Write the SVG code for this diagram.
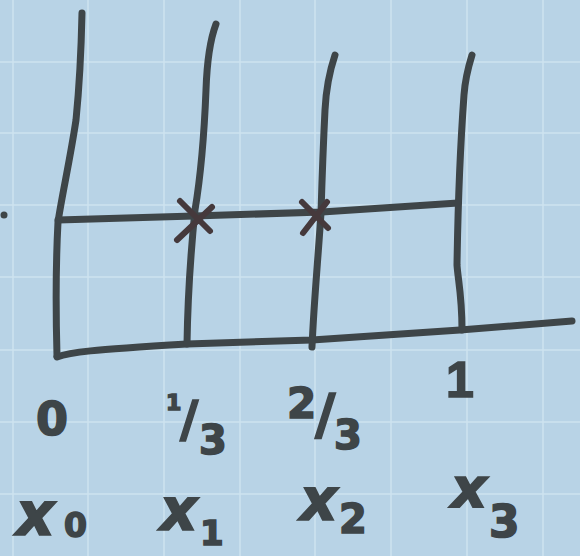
<svg xmlns="http://www.w3.org/2000/svg" width="580" height="556" viewBox="0 0 580 556">
<style>
.grid{stroke:#cde3f0;stroke-width:1.5;fill:none}
.ink{stroke:#3e4548;stroke-width:7;fill:none;stroke-linecap:round;stroke-linejoin:round}
.mark{stroke:#45393c;stroke-width:6;fill:none;stroke-linecap:round}
.lbl{font-family:"DejaVu Sans",sans-serif;fill:#3e4548;stroke:#3e4548;stroke-width:1.6;font-weight:bold}
.xv{font-style:italic}
</style>
<rect width="580" height="556" fill="#b8d3e6"/>
<g id="grid">
<path class="grid" d="M13,0V556M88,0V556M164,0V556M240,0V556M315,0V556M391,0V556M467,0V556M543,0V556"/>
<path class="grid" d="M0,62H580M0,133H580M0,205H580M0,277H580M0,350H580M0,422H580M0,494H580"/>
</g>
<g id="connectors">
<path id="axis" class="ink" d="M57,357 C70,352 90,350 187,344 L312,340 L460,330 L572,321"/>
<path id="row" class="ink" d="M58,220 L194,216 L322,212 L458,203"/>
<path id="v0" class="ink" d="M82,13 C81,60 79,90 76,120 C70,160 62,195 58,222 C56,260 56,320 57,356"/>
<path id="v1" class="ink" d="M216,24 C210,40 207,60 206,90 C204,140 200,180 195,210 C192,240 188,280 187,344"/>
<path id="v2" class="ink" d="M335,55 C330,70 326,90 325,110 C323,150 322,180 321,213 C318,260 314,300 312,347"/>
<path id="v3" class="ink" d="M472,55 C468,68 465,80 464,95 C460,150 458,200 457,265 C458,280 462,295 462,330"/>
</g>
<g id="cross1"><path class="mark" d="M180,201 L210,231 M212,207 L177,240"/></g>
<g id="cross2"><path class="mark" d="M302,202 L328,228 M327,202 L303,233"/></g>
<g id="dot"><circle cx="4" cy="215" r="3.5" fill="#3e4548"/></g>
<g id="labels" class="lbl">
<text x="52" y="435" font-size="46" text-anchor="middle">0</text>
<text><tspan x="166" y="410" font-size="22">1</tspan><tspan x="180" y="436" font-size="50">/</tspan><tspan x="199" y="454" font-size="40">3</tspan></text>
<text><tspan x="287" y="418" font-size="42">2</tspan><tspan x="315" y="433" font-size="56">/</tspan><tspan x="334" y="449" font-size="40">3</tspan></text>
<text x="460" y="397" font-size="50" text-anchor="middle" style="font-family:'Liberation Sans',sans-serif">1</text>
<text><tspan class="xv" x="16" y="535" font-size="60">x</tspan><tspan x="64" y="537" font-size="33">0</tspan></text>
<text><tspan class="xv" x="160" y="530" font-size="58">x</tspan><tspan x="200" y="545" font-size="34">1</tspan></text>
<text><tspan class="xv" x="300" y="520" font-size="58">x</tspan><tspan x="339" y="533" font-size="40">2</tspan></text>
<text><tspan class="xv" x="451" y="507" font-size="56">x</tspan><tspan x="489" y="537" font-size="44">3</tspan></text>
</g>
</svg>
